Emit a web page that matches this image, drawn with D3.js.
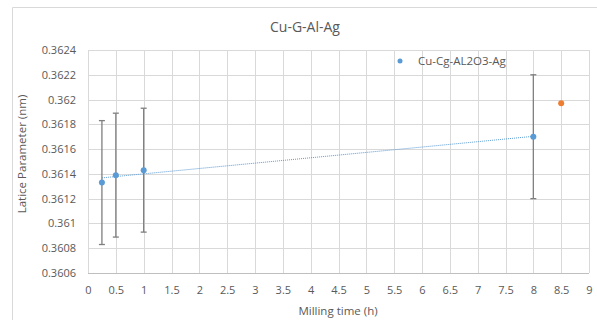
<!DOCTYPE html>
<html>
<head>
<meta charset="utf-8">
<script src="https://cdn.jsdelivr.net/npm/d3@7"></script>
<style>
  body { margin: 0; background: #fff; }
  svg { font-family: "Open Sans", "Noto Sans", sans-serif; display: block; }
</style>
</head>
<body>
<div id="chart"></div>
<script>
// milling time (h) and lattice parameter (nm)
const millTime = [0.25, 0.5, 1, 8];
const latticeVals = [0.36133, 0.36139, 0.36143, 0.36170];
const errAmount = [0.0005, 0.0005, 0.0005, 0.0005];
// the lone orange point
const extraTime = [8.5];
const extraVals = [0.36197];
const xTicks = [0, 0.5, 1, 1.5, 2, 2.5, 3, 3.5, 4, 4.5, 5, 5.5, 6, 6.5, 7, 7.5, 8, 8.5, 9];
const yTicks = [0.3606, 0.3608, 0.361, 0.3612, 0.3614, 0.3616, 0.3618, 0.362, 0.3622, 0.3624];
const seriesName = "Cu-Cg-AL2O3-Ag";

const outerWidth = 597, outerHeight = 320;
const margin = { left: 88, top: 50, right: 8, bottom: 47 };
const innerWidth = outerWidth - margin.left - margin.right;
const innerHeight = outerHeight - margin.top - margin.bottom;

const svg = d3.select("#chart").append("svg")
  .attr("width", outerWidth)
  .attr("height", outerHeight);

// chart frame (only top and left edges are visible)
svg.append("path")
  .attr("d", "M12.5," + outerHeight + "V7.5H" + outerWidth)
  .attr("fill", "none")
  .attr("stroke", "#d9d9d9");

svg.append("text")
  .attr("x", 305).attr("y", 32)
  .attr("text-anchor", "middle")
  .attr("font-size", "14px")
  .attr("fill", "#595959")
  .text("Cu-G-Al-Ag");

const g = svg.append("g")
  .attr("transform", "translate(" + margin.left + "," + margin.top + ")");

const x = d3.scaleLinear().domain([0, 9]).range([0, 501]);
const y = d3.scaleLinear().domain([0.3606, 0.3624]).range([223, 0]);

// gridlines
g.append("g").selectAll("line").data(xTicks).join("line")
  .attr("x1", d => Math.round(x(d)) + 0.5).attr("x2", d => Math.round(x(d)) + 0.5)
  .attr("y1", 0).attr("y2", 223)
  .attr("stroke", "#d9d9d9");
g.append("g").selectAll("line").data(yTicks).join("line")
  .attr("x1", 0).attr("x2", 501)
  .attr("y1", d => Math.round(y(d)) + 0.5).attr("y2", d => Math.round(y(d)) + 0.5)
  .attr("stroke", d => d === 0.3606 ? "#bfbfbf" : "#d9d9d9");

// axes (labels only)
const xAxis = d3.axisBottom(x).tickValues(xTicks).tickSize(0).tickPadding(13).tickFormat(d3.format("~g"));
const yAxis = d3.axisLeft(y).tickValues(yTicks).tickSize(0).tickPadding(12).tickFormat(d3.format("~g"));
const xAxisG = g.append("g").attr("transform", "translate(0,223)").call(xAxis);
const yAxisG = g.append("g").call(yAxis);
[xAxisG, yAxisG].forEach(a => {
  a.select(".domain").remove();
  a.selectAll("text").attr("fill", "#595959").attr("font-size", "11px")
    .style("font-family", '"Open Sans", "Noto Sans", sans-serif');
});

svg.append("text")
  .attr("x", 338).attr("y", 315)
  .attr("text-anchor", "middle")
  .attr("font-size", "11.5px")
  .attr("fill", "#595959")
  .text("Milling time (h)");
svg.append("text")
  .attr("transform", "translate(26,154) rotate(-90)")
  .attr("text-anchor", "middle")
  .attr("font-size", "11.5px")
  .attr("fill", "#595959")
  .text("Latice Parameter (nm)");

// linear trendline (least squares over the blue series)
const mx = d3.mean(millTime), my = d3.mean(latticeVals);
const slope = d3.sum(millTime, (d, i) => (d - mx) * (latticeVals[i] - my)) / d3.sum(millTime, d => (d - mx) * (d - mx));
const icpt = my - slope * mx;
const xr = d3.extent(millTime);
g.append("line")
  .attr("x1", x(xr[0])).attr("y1", y(icpt + slope * xr[0]))
  .attr("x2", x(xr[1])).attr("y2", y(icpt + slope * xr[1]))
  .attr("stroke", "#5b9bd5")
  .attr("stroke-width", 1)
  .attr("stroke-dasharray", "1,1");

// error bars
const eb = g.append("g").attr("stroke", "#7f7f7f").attr("stroke-width", 1.3);
millTime.forEach((t, i) => {
  const cx = x(t);
  const hi = y(latticeVals[i] + errAmount[i]), lo = y(latticeVals[i] - errAmount[i]);
  eb.append("line").attr("x1", cx).attr("x2", cx).attr("y1", hi).attr("y2", lo);
  eb.append("line").attr("x1", cx - 3).attr("x2", cx + 3).attr("y1", hi).attr("y2", hi);
  eb.append("line").attr("x1", cx - 3).attr("x2", cx + 3).attr("y1", lo).attr("y2", lo);
});

g.selectAll("circle.main").data(millTime).join("circle")
  .attr("class", "main")
  .attr("cx", d => x(d))
  .attr("cy", (d, i) => y(latticeVals[i]))
  .attr("r", 3)
  .attr("fill", "#5b9bd5");

g.selectAll("circle.extra").data(extraTime).join("circle")
  .attr("class", "extra")
  .attr("cx", d => x(d))
  .attr("cy", (d, i) => y(extraVals[i]))
  .attr("r", 3)
  .attr("fill", "#ed7d31");

// legend
svg.append("circle").attr("cx", 400).attr("cy", 61).attr("r", 2.5).attr("fill", "#5b9bd5");
svg.append("text")
  .attr("x", 418).attr("y", 65)
  .attr("font-size", "11.5px")
  .attr("fill", "#595959")
  .text(seriesName);
</script>
</body>
</html>
